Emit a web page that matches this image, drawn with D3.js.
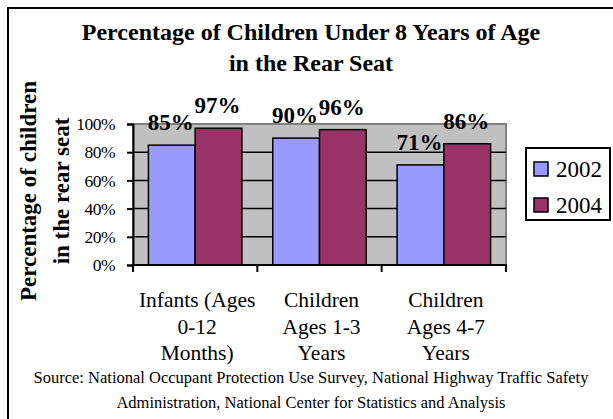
<!DOCTYPE html>
<html>
<head>
<meta charset="utf-8">
<script src="https://cdn.jsdelivr.net/npm/d3@7"></script>
</head>
<body style="margin:0">
<div id="chart"></div>
<script>
const categories = ['Infants (Ages|0-12|Months)', 'Children|Ages 1-3|Years', 'Children|Ages 4-7|Years']
const years = ['2002', '2004']
const values2002 = [0.85, 0.90, 0.71]
const values2004 = [0.97, 0.96, 0.86]
const yTicks = [0, 0.2, 0.4, 0.6, 0.8, 1.0]
const titleLines = ['Percentage of Children Under 8 Years of Age', 'in the Rear Seat']
const yTitleLines = ['Percentage of children', 'in the rear seat']
const sourceLines = [
  'Source: National Occupant Protection Use Survey, National Highway Traffic Safety',
  'Administration, National Center for Statistics and Analysis'
]

const colors = { '2002': '#9999FF', '2004': '#993366' }
const font = '"Liberation Serif"'

const width = 613
const height = 419
const plot = { left: 133, right: 506, top: 124, bottom: 265 }

const svg = d3
  .select('#chart')
  .append('svg')
  .attr('width', width)
  .attr('height', height)

// outer frame (top + left only visible)
svg.append('line').attr('x1', 7).attr('x2', width).attr('y1', 8).attr('y2', 8)
  .attr('stroke', '#000').attr('stroke-width', 2)
svg.append('line').attr('x1', 8).attr('x2', 8).attr('y1', 7).attr('y2', height)
  .attr('stroke', '#000').attr('stroke-width', 2)

const x0 = d3.scaleBand().domain(categories).range([plot.left, plot.right])
const x1 = d3.scaleBand().domain(years).range([0, x0.bandwidth()]).paddingOuter(0.33)
const y = d3.scaleLinear().domain([0, 1]).range([plot.bottom, plot.top])

// plot background
svg.append('rect')
  .attr('x', plot.left).attr('y', plot.top)
  .attr('width', plot.right - plot.left).attr('height', plot.bottom - plot.top)
  .attr('fill', '#C0C0C0')
  .attr('stroke', '#808080').attr('stroke-width', 2)

// gridlines
svg.selectAll('.grid')
  .data(yTicks.slice(1, -1))
  .enter()
  .append('line')
  .attr('class', 'grid')
  .attr('x1', plot.left).attr('x2', plot.right)
  .attr('y1', d => y(d)).attr('y2', d => y(d))
  .attr('stroke', '#000').attr('stroke-width', 1.5)

const rows = categories.map((c, i) => ({ cat: c, vals: [values2002[i], values2004[i]] }))

const groups = svg.selectAll('.group')
  .data(rows)
  .enter()
  .append('g')
  .attr('transform', d => 'translate(' + x0(d.cat) + ',0)')

groups.selectAll('rect')
  .data(d => years.map((yr, j) => ({ yr: yr, v: d.vals[j] })))
  .enter()
  .append('rect')
  .attr('x', d => x1(d.yr))
  .attr('y', d => y(d.v))
  .attr('width', x1.bandwidth())
  .attr('height', d => y(0) - y(d.v))
  .attr('fill', d => colors[d.yr])
  .attr('stroke', '#000').attr('stroke-width', 1.5)

groups.selectAll('.lbl')
  .data(d => years.map((yr, j) => ({ yr: yr, v: d.vals[j] })))
  .enter()
  .append('text')
  .attr('class', 'lbl')
  .attr('x', d => x1(d.yr) + x1.bandwidth() / 2 - 1)
  .attr('y', d => y(d.v) - 15)
  .attr('text-anchor', 'middle')
  .style('font-family', font)
  .attr('font-weight', 'bold')
  .attr('font-size', 23)
  .text(d => Math.round(d.v * 100) + '%')

// y axis
const yAxis = svg.append('g')
  .attr('transform', 'translate(' + plot.left + ',0)')
  .call(d3.axisLeft(y).tickValues(yTicks).tickFormat(d3.format('.0%')).tickSizeOuter(0).tickSize(6).tickPadding(12))
yAxis.attr('font-family', null)
yAxis.select('.domain').attr('stroke', '#000').attr('stroke-width', 2)
yAxis.selectAll('.tick line').attr('stroke-width', 2)
yAxis.selectAll('text')
  .attr('font-size', 17.5)
  .style('font-family', font)
  .attr('fill', '#000')
  .attr('dy', '0.32em')
  .attr('letter-spacing', -0.5)

// x axis
const xAxis = svg.append('g')
  .attr('transform', 'translate(0,' + plot.bottom + ')')
xAxis.append('line')
  .attr('x1', plot.left).attr('x2', plot.right + 1)
  .attr('stroke', '#000').attr('stroke-width', 2)
xAxis.selectAll('.xtick')
  .data(categories.map(c => x0(c)).concat([plot.right]))
  .enter()
  .append('line')
  .attr('x1', d => d).attr('x2', d => d)
  .attr('y1', 0).attr('y2', 7)
  .attr('stroke', '#000').attr('stroke-width', 2)

const catText = svg.selectAll('.cat')
  .data(categories)
  .enter()
  .append('text')
  .attr('class', 'cat')
  .attr('text-anchor', 'middle')
  .style('font-family', font)
  .attr('font-size', 21.5)
  .attr('transform', d => 'translate(' + (x0(d) + x0.bandwidth() / 2 + 2) + ',307)')
catText.selectAll('tspan')
  .data(d => d.split('|'))
  .enter()
  .append('tspan')
  .attr('x', 0)
  .attr('y', (d, i) => i * 26.5)
  .style('font-family', font)
  .text(d => d)

// title
svg.selectAll('.title')
  .data(titleLines)
  .enter()
  .append('text')
  .attr('x', 311)
  .attr('y', (d, i) => 40 + i * 31)
  .attr('text-anchor', 'middle')
  .style('font-family', font)
  .attr('font-weight', 'bold')
  .attr('font-size', 24)
  .text(d => d)

// y title
svg.selectAll('.ytitle')
  .data(yTitleLines)
  .enter()
  .append('text')
  .attr('transform', (d, i) => 'translate(' + (36 + i * 33) + ',191) rotate(-90)')
  .attr('text-anchor', 'middle')
  .style('font-family', font)
  .attr('font-weight', 'bold')
  .attr('font-size', 23)
  .text(d => d)

// legend
const legend = svg.append('g').attr('transform', 'translate(526,148)')
legend.append('rect')
  .attr('width', 84).attr('height', 72)
  .attr('fill', '#fff').attr('stroke', '#000').attr('stroke-width', 2)
const items = legend.selectAll('.item')
  .data(years)
  .enter()
  .append('g')
  .attr('transform', (d, i) => 'translate(8,' + (14 + i * 36) + ')')
items.append('rect')
  .attr('width', 14).attr('height', 14)
  .attr('fill', d => colors[d])
  .attr('stroke', '#000').attr('stroke-width', 1.5)
items.append('text')
  .attr('x', 22)
  .attr('y', 15)
  .style('font-family', font)
  .attr('font-size', 23)
  .text(d => d)

// source
svg.selectAll('.src')
  .data(sourceLines)
  .enter()
  .append('text')
  .attr('x', 311)
  .attr('y', (d, i) => 383 + i * 25)
  .attr('text-anchor', 'middle')
  .style('font-family', font)
  .attr('font-size', 16.5)
  .text(d => d)
</script>
</body>
</html>
